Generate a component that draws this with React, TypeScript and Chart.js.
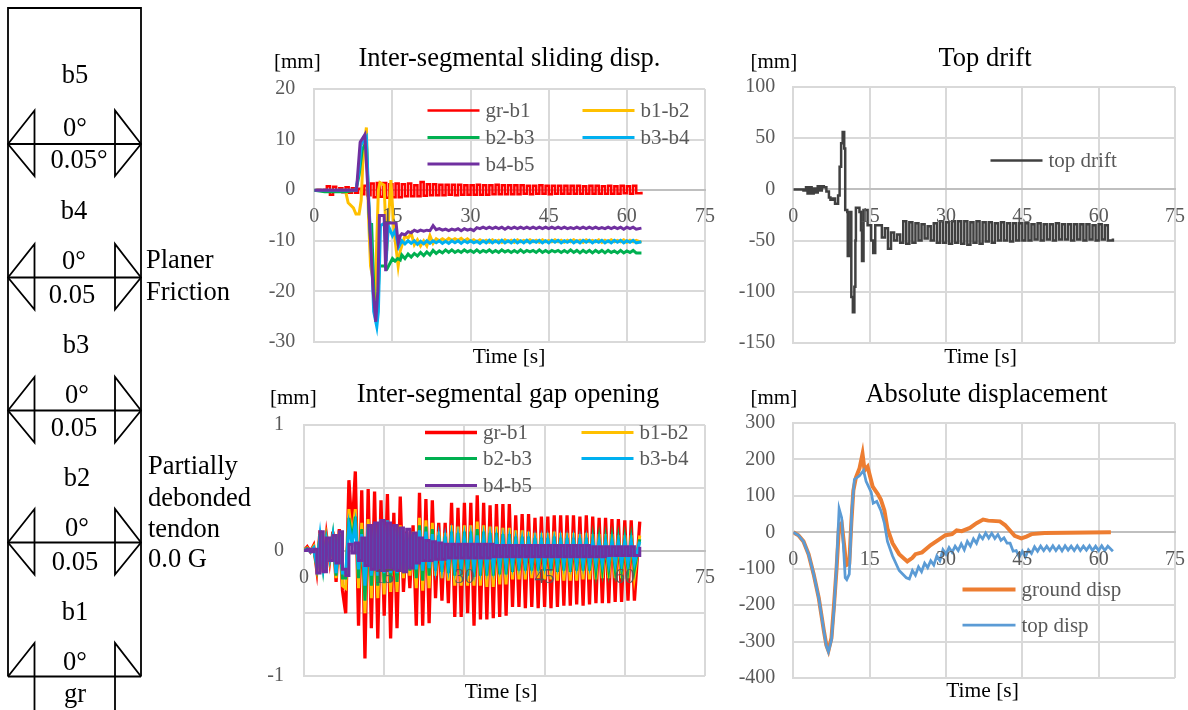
import React, { useEffect, useRef } from "react";
import { Chart, registerables } from "chart.js";

Chart.register(...registerables);

const FONT = '"Liberation Serif", "Times New Roman", serif';
const INK = "#595959";

// ---------- shared sampling times [s] ----------
const sampleTimes = [
  0, 0.6, 1.2, 1.8, 2.4, 3, 3.6, 4.2, 4.8, 5.4,
  6, 6.6, 7.2, 7.8, 8.4, 9, 9.6, 10.2, 10.8, 11.4,
  12, 12.6, 13.2, 13.8, 14.4, 15, 15.6, 16.2, 16.8, 17.4,
  18, 18.6, 19.2, 19.8, 20.4, 21, 21.6, 22.2, 22.8, 23.4,
  24, 24.6, 25.2, 25.8, 26.4, 27, 27.6, 28.2, 28.8, 29.4,
  30, 30.6, 31.2, 31.8, 32.4, 33, 33.6, 34.2, 34.8, 35.4,
  36, 36.6, 37.2, 37.8, 38.4, 39, 39.6, 40.2, 40.8, 41.4,
  42, 42.6, 43.2, 43.8, 44.4, 45, 45.6, 46.2, 46.8, 47.4,
  48, 48.6, 49.2, 49.8, 50.4, 51, 51.6, 52.2, 52.8, 53.4,
  54, 54.6, 55.2, 55.8, 56.4, 57, 57.6, 58.2, 58.8, 59.4,
  60, 60.6, 61.2, 61.8, 62.8,
];
const tailTimes = sampleTimes.slice(28); // from 16.8 s
const absTailTimes = sampleTimes.slice(38); // from 22.8 s

// ---------- Inter-segmental sliding disp. [mm] ----------
const slideGrB1 = [
  0, 0.1, -0.1, 0.1, 0.8, -0.9, 0.7, -0.3, 0.4, -0.4,
  0.6, -0.5, 0.4, -0.5, 0.3, -0.8, 0.9, -1, 1.3, -1.4,
  1.4, -1.3, 1.4, -1.5, 1.2, -1.4, 1.3, -1.4, 1.2, -1.2,
  1.3, -1.2, 1, -1.2, 1.6, -1.1, 1.2, -1, 1.2, -1,
  1.1, -1, 1.1, -0.9, 1.1, -1, 1.1, -0.9, 1, -0.9,
  1, -0.9, 1.1, -0.9, 1, -0.9, 1, -0.8, 1.1, -0.8,
  1, -0.8, 1, -0.8, 1, -0.8, 1, -0.7, 0.9, -0.8,
  0.9, -0.7, 1, -0.7, 0.9, -0.8, 0.9, -0.7, 0.9, -0.7,
  0.9, -0.7, 0.9, -0.7, 0.9, -0.7, 0.8, -0.7, 0.9, -0.7,
  0.9, -0.7, 0.8, -0.7, 0.9, -0.7, 0.8, -0.7, 0.9, -0.6,
  0.8, -0.7, 0.9, -0.6, -0.3,
];
const slideB1B2EarlyT = [0, 6, 6.5, 7.5, 8, 8.6, 9, 9.3, 9.6, 10, 10.4, 10.8, 11.7, 12.3, 12.6, 13.4, 13.9, 14.7, 15.3, 16.1, 16.5];
const slideB1B2Early = [0, -0.2, -2.5, -3.5, -4.7, -4.7, -2, 5, 9, 12.4, -5, -15, -20, 0, 1.5, 1, -12, 2, -8, -15, -12];
const slideB1B2Tail = [
  -11, -9, -9.5, -8.5, -10.8, -9.8, -11, -10, -11, -9,
  -10.5, -9.6, -10, -9.6, -10, -9.5, -9.9, -9.6, -9.9, -9.5,
  -10, -9.6, -10.1, -9.8, -10.2, -9.8, -10.2, -9.9, -10.3, -9.8,
  -10.2, -9.9, -10.3, -9.8, -10.2, -9.9, -10.3, -9.8, -10.2, -9.9,
  -10.2, -9.8, -10.2, -9.9, -10.3, -9.8, -10.2, -9.9, -10.2, -9.8,
  -10.2, -9.9, -10.3, -9.9, -10.2, -9.8, -10.2, -9.9, -10.3, -9.8,
  -10.2, -9.9, -10.2, -9.8, -10.3, -9.9, -10.2, -9.8, -10.2, -9.9,
  -10.2, -9.8, -10.3, -9.9, -10.2, -9.9, -10.3,
];
const slideB2B3EarlyT = [0, 2, 6, 8, 8.6, 9.2, 10, 10.4, 10.8, 11, 11.5, 12, 12.5, 13.5, 14, 15, 15.5, 16, 16.5];
const slideB2B3Early = [0, -0.3, -0.3, 0, 3, 8, 9.5, -2, -10, -6.5, -22, -26, -15, -15, -15.5, -13.5, -14, -13.5, -13.8];
const slideB2B3Tail = [
  -12.8, -13.5, -12.6, -13.2, -12.5, -13, -12.3, -12.9, -12.2, -12.8,
  -11.9, -12.5, -12, -12.4, -11.8, -12.3, -11.8, -12.3, -11.9, -12.3,
  -11.8, -12.2, -11.9, -12.3, -11.8, -12.3, -11.9, -12.2, -11.8, -12.3,
  -11.9, -12.3, -11.8, -12.2, -11.9, -12.3, -11.9, -12.3, -11.8, -12.3,
  -11.9, -12.2, -11.9, -12.3, -11.8, -12.3, -11.9, -12.3, -11.9, -12.2,
  -11.9, -12.3, -11.9, -12.3, -11.8, -12.3, -11.9, -12.4, -11.9, -12.3,
  -11.9, -12.4, -11.9, -12.3, -11.9, -12.4, -11.9, -12.3, -12, -12.4,
  -11.9, -12.4, -12, -12.3, -11.9, -12.4, -12.4,
];
const slideB3B4EarlyT = [0, 8, 8.6, 9, 10, 10.5, 11, 11.4, 12, 12.3, 12.7, 13.5, 13.8, 14.2, 15, 15.5, 16.2];
const slideB3B4Early = [0, 0, 4, 9, 10.5, -3, -13, -24, -27, -24, -7, -6.5, -14, -7, -9, -8, -11.2];
const slideB3B4Tail = [
  -10, -10.6, -10, -10.5, -10, -10.7, -10.1, -10.6, -10, -10.5,
  -10, -10.4, -10, -10.5, -10.1, -10.5, -10, -10.4, -10, -10.5,
  -10, -10.4, -10, -10.4, -10.1, -10.5, -10, -10.4, -9.9, -10.4,
  -10, -10.4, -9.9, -10.4, -10, -10.4, -9.9, -10.4, -10, -10.4,
  -9.9, -10.4, -10, -10.3, -9.9, -10.4, -10, -10.4, -9.9, -10.3,
  -9.9, -10.4, -10, -10.3, -9.9, -10.4, -10, -10.4, -9.9, -10.3,
  -9.9, -10.4, -10, -10.3, -9.9, -10.4, -10, -10.4, -9.9, -10.3,
  -9.9, -10.4, -10, -10.3, -9.9, -10.4, -10.2,
];
const slideB4B5EarlyT = [0, 8.1, 8.8, 9.7, 10.4, 10.8, 11.3, 11.8, 12.2, 12.5, 13.4, 13.7, 14, 15.7, 16.1, 16.5];
const slideB4B5Early = [0, 0, 9.5, 11, -2, -10, -20, -26, -20, -5, -5, -16, -6.5, -6.5, -10.5, -9];
const slideB4B5Tail = [
  -8.6, -8.8, -8.2, -8.4, -7.9, -8.2, -7.9, -8.1, -7.9, -8,
  -7, -7.8, -7.6, -7.9, -7.7, -8, -7.7, -7.9, -7.6, -8,
  -7.6, -7.9, -7.7, -8, -7.4, -7.6, -7.3, -7.6, -7.3, -7.6,
  -7.3, -7.6, -7.3, -7.7, -7.3, -7.6, -7.3, -7.6, -7.3, -7.6,
  -7.3, -7.6, -7.3, -7.6, -7.3, -7.6, -7.3, -7.6, -7.3, -7.6,
  -7.3, -7.6, -7.3, -7.6, -7.4, -7.6, -7.3, -7.6, -7.3, -7.6,
  -7.3, -7.6, -7.3, -7.6, -7.4, -7.6, -7.3, -7.6, -7.3, -7.6,
  -7.3, -7.7, -7.3, -7.6, -7.3, -7.7, -7.5,
];

// ---------- Inter-segmental gap opening [mm] ----------
const gapGrB1 = [
  0, 0.03, -0.01, 0.04, -0.16, 0.16, -0.17, 0.12, -0.08, 0.15,
  -0.25, 0.17, -0.32, -0.5, 0.56, 0.15, 0.63, -0.6, 0.48, -0.86,
  0.49, -0.62, 0.47, -0.7, 0.4, -0.52, 0.45, -0.7, 0.3, -0.62,
  0.43, -0.33, 0.15, -0.3, 0.2, -0.6, 0.46, -0.6, 0.41, -0.58,
  0.4, -0.38, 0.22, -0.4, 0.22, -0.42, 0.38, -0.53, 0.34, -0.53,
  0.38, -0.5, 0.38, -0.6, 0.44, -0.55, 0.38, -0.55, 0.36, -0.54,
  0.37, -0.53, 0.37, -0.52, 0.37, -0.45, 0.28, -0.45, 0.29, -0.46,
  0.29, -0.45, 0.26, -0.46, 0.27, -0.45, 0.27, -0.46, 0.28, -0.45,
  0.28, -0.44, 0.28, -0.44, 0.28, -0.43, 0.27, -0.44, 0.28, -0.43,
  0.27, -0.42, 0.26, -0.42, 0.26, -0.42, 0.25, -0.41, 0.25, -0.41,
  0.24, -0.4, 0.24, -0.4, 0.23,
];
const gapB1B2 = [
  0, 0.02, -0.01, 0.03, -0.14, 0.14, -0.15, 0.1, -0.07, 0.13,
  -0.22, 0.15, -0.28, -0.3, 0.33, 0.1, 0.33, -0.3, 0.22, -0.5,
  0.25, -0.38, 0.2, -0.38, 0.2, -0.35, 0.2, -0.33, 0.16, -0.33,
  0.2, -0.22, 0.12, -0.2, 0.15, -0.3, 0.26, -0.32, 0.24, -0.3,
  0.22, -0.2, 0.15, -0.22, 0.14, -0.24, 0.2, -0.28, 0.19, -0.28,
  0.2, -0.28, 0.2, -0.28, 0.23, -0.28, 0.2, -0.29, 0.19, -0.29,
  0.19, -0.27, 0.18, -0.27, 0.18, -0.23, 0.16, -0.23, 0.16, -0.23,
  0.15, -0.22, 0.14, -0.22, 0.14, -0.23, 0.14, -0.23, 0.15, -0.24,
  0.14, -0.24, 0.14, -0.24, 0.14, -0.24, 0.13, -0.23, 0.14, -0.23,
  0.13, -0.23, 0.13, -0.22, 0.13, -0.22, 0.13, -0.22, 0.12, -0.22,
  0.12, -0.22, 0.12, -0.21, 0.12,
];
const gapB2B3 = [
  0, 0.015, -0.01, 0.02, -0.13, 0.13, -0.14, 0.09, -0.06, 0.12,
  -0.2, 0.13, -0.22, -0.22, 0.26, 0.08, 0.27, -0.22, 0.17, -0.4,
  0.2, -0.28, 0.16, -0.28, 0.17, -0.26, 0.17, -0.25, 0.13, -0.25,
  0.16, -0.18, 0.1, -0.16, 0.13, -0.22, 0.2, -0.24, 0.19, -0.2,
  0.17, -0.16, 0.12, -0.17, 0.11, -0.18, 0.15, -0.2, 0.14, -0.2,
  0.15, -0.2, 0.15, -0.21, 0.17, -0.2, 0.15, -0.2, 0.14, -0.2,
  0.14, -0.19, 0.13, -0.19, 0.13, -0.17, 0.11, -0.16, 0.11, -0.16,
  0.11, -0.16, 0.1, -0.16, 0.1, -0.16, 0.1, -0.16, 0.11, -0.17,
  0.1, -0.16, 0.1, -0.17, 0.1, -0.16, 0.1, -0.16, 0.1, -0.16,
  0.09, -0.16, 0.09, -0.15, 0.09, -0.15, 0.09, -0.15, 0.09, -0.15,
  0.09, -0.15, 0.09, -0.15, 0.09,
];
const gapB3B4 = [
  0, 0.01, -0.01, 0.02, -0.12, 0.12, -0.13, 0.08, -0.06, 0.11,
  -0.18, 0.11, -0.18, -0.18, 0.2, 0.05, 0.21, -0.15, 0.13, -0.28,
  0.18, -0.2, 0.2, -0.2, 0.25, -0.18, 0.24, -0.18, 0.19, -0.18,
  0.17, -0.17, 0.14, -0.14, 0.13, -0.15, 0.16, -0.16, 0.15, -0.14,
  0.13, -0.13, 0.1, -0.13, 0.09, -0.13, 0.11, -0.13, 0.1, -0.13,
  0.1, -0.13, 0.1, -0.14, 0.12, -0.13, 0.1, -0.13, 0.1, -0.13,
  0.09, -0.12, 0.09, -0.12, 0.09, -0.11, 0.08, -0.11, 0.08, -0.11,
  0.08, -0.11, 0.08, -0.11, 0.08, -0.11, 0.08, -0.11, 0.08, -0.11,
  0.08, -0.11, 0.08, -0.11, 0.08, -0.11, 0.08, -0.11, 0.08, -0.11,
  0.07, -0.1, 0.07, -0.1, 0.07, -0.1, 0.07, -0.1, 0.07, -0.1,
  0.07, -0.1, 0.07, -0.1, 0.07,
];
const gapB4B5 = [
  0, 0.01, -0.01, 0.01, -0.18, 0.15, -0.17, 0.1, -0.08, 0.12,
  -0.1, 0.15, -0.15, -0.2, 0.05, -0.02, 0.06, -0.08, 0.1, -0.12,
  0.2, -0.15, 0.22, -0.16, 0.24, -0.16, 0.22, -0.15, 0.2, -0.16,
  0.18, -0.17, 0.17, -0.14, 0.14, -0.1, 0.1, -0.08, 0.08, -0.08,
  0.07, -0.07, 0.06, -0.07, 0.05, -0.06, 0.05, -0.06, 0.05, -0.06,
  0.05, -0.06, 0.05, -0.06, 0.05, -0.06, 0.05, -0.06, 0.05, -0.05,
  0.04, -0.05, 0.04, -0.05, 0.04, -0.05, 0.04, -0.05, 0.04, -0.05,
  0.04, -0.05, 0.04, -0.05, 0.04, -0.05, 0.04, -0.05, 0.04, -0.05,
  0.04, -0.05, 0.04, -0.05, 0.04, -0.05, 0.04, -0.05, 0.04, -0.05,
  0.03, -0.05, 0.03, -0.05, 0.03, -0.04, 0.03, -0.04, 0.03, -0.04,
  0.03, -0.04, 0.03, -0.04, 0.03,
];

// ---------- Top drift [mm] ----------
const driftEarlyT = [0, 1, 2, 2.5, 2.8, 3.2, 3.6, 4, 4.4, 4.8, 5.2, 5.6, 6, 6.5, 7, 7.3, 7.8, 8.2, 8.5, 8.8, 9.1, 9.4, 9.7, 10, 10.2, 10.6, 10.7, 11, 11.2, 11.4, 11.7, 12, 12.2, 12.3, 13, 13.3, 13.5, 13.8, 14.6, 15.3, 15.7, 16.1];
const driftEarly = [0, 0, -1, 2, -4, 2, -4, 1, -3, 3, -1, 3, 2, -2, -8, -10, -9, -14, -14, -6, 22, 45, 56, 40, -20, -22, -65, -65, -22, -105, -120, -95, -50, -18, -22, -40, -70, -20, -35, -50, -62, -35];
const driftTail = [
  -35, -47, -38, -58, -42, -50, -44, -52, -31, -53,
  -32, -52, -33, -50, -34, -48, -36, -50, -33, -52,
  -31, -52, -32, -53, -31, -52, -31, -53, -31, -54,
  -32, -52, -31, -53, -32, -51, -32, -52, -33, -50,
  -32, -50, -33, -51, -33, -50, -33, -50, -33, -50,
  -34, -49, -33, -50, -34, -49, -34, -50, -33, -49,
  -34, -49, -34, -50, -34, -49, -34, -50, -34, -49,
  -35, -50, -34, -49, -35, -50, -48,
];

// ---------- Absolute displacement [mm] ----------
const groundT = [0, 1, 2, 3, 4, 5, 5.5, 6, 6.5, 6.9, 7.5, 8, 8.5, 9, 9.5, 10, 10.4, 11, 11.4, 11.8, 12.3, 13, 13.6, 14, 14.6, 15.6, 16.6, 17.2, 17.9, 18.5, 19.5, 20.8, 22.4, 23.4, 24, 25.3, 27, 28.6, 29.9, 31.2, 32.1, 33.1, 34.7, 36, 37.3, 38.3, 40.6, 41.6, 43.5, 44.8, 45.8, 46.8, 49.4, 62.4];
const groundDisp = [0, -8, -25, -60, -115, -180, -225, -270, -310, -325, -290, -200, -100, 20, 25, -37, -90, -85, 25, 115, 150, 175, 215, 170, 180, 125, 105, 90, 60, 10, -30, -60, -80, -70, -60, -55, -35, -20, -8, -5, 5, 3, 12, 25, 35, 32, 30, 20, -10, -17, -12, -5, -2, 0];
const topEarlyT = [0, 1, 2, 3, 4, 5, 5.5, 6, 6.5, 6.9, 7.5, 8, 8.5, 9, 9.5, 9.9, 10.2, 10.5, 11, 11.5, 12, 13, 13.8, 14.3, 15.3, 15.7, 16.4, 17.2, 17.9, 18.5, 19.5, 20.8, 22.2];
const topEarly = [0, -8, -25, -60, -115, -180, -225, -270, -312, -328, -295, -210, -90, 65, 40, -50, -125, -130, -115, 60, 145, 155, 170, 140, 110, 80, 85, 60, 25, -25, -65, -105, -125];
const topTail = [
  -128, -105, -118, -95, -108, -85, -97, -78, -90, -65,
  -78, -48, -60, -42, -55, -38, -50, -32, -48, -25,
  -38, -18, -30, -8, -18, -2, -16, -3, -17, -6,
  -22, -15, -30, -30, -52, -50, -68, -52, -68, -48,
  -58, -40, -52, -38, -50,
  -38, -50, -37, -50, -38, -51, -37, -49, -38, -50, -37,
  -50, -38, -49, -37, -50, -38, -50, -37, -50, -38, -52,
];

const segmentNames = ["gr-b1", "b1-b2", "b2-b3", "b3-b4", "b4-b5"];
const segmentColors = ["#ff0000", "#ffc000", "#00b050", "#00b0f0", "#7030a0"];

const xy = (t: number[], v: number[]) => v.map((y, i) => ({ x: t[i], y }));

const slideSeries = [
  xy(sampleTimes, slideGrB1),
  [...xy(slideB1B2EarlyT, slideB1B2Early), ...xy(tailTimes, slideB1B2Tail)],
  [...xy(slideB2B3EarlyT, slideB2B3Early), ...xy(tailTimes, slideB2B3Tail)],
  [...xy(slideB3B4EarlyT, slideB3B4Early), ...xy(tailTimes, slideB3B4Tail)],
  [...xy(slideB4B5EarlyT, slideB4B5Early), ...xy(tailTimes, slideB4B5Tail)],
];
const gapSeries = [gapGrB1, gapB1B2, gapB2B3, gapB3B4, gapB4B5].map((v) => xy(sampleTimes, v));

type Panel = {
  left: number; top: number; width: number; height: number;
  axisWidth: number;
  yMin: number; yMax: number; yStep: number; yLabels?: number[];
  yTickPad: number;
  lines: { label: string; color: string; width: number; stepped?: boolean; data: { x: number; y: number }[] }[];
};

// Chart.js keeps about 31px above and below, and 25px right of, a plot whose
// x axis crosses at y = 0, so each canvas is that much larger than its plot.
const panels: Panel[] = [
  {
    left: 260, top: 58, width: 470, height: 315, axisWidth: 54.3,
    yMin: -30, yMax: 20, yStep: 10, yTickPad: 19,
    lines: segmentNames.map((label, i) => ({ label, color: segmentColors[i], width: i === 0 ? 2.5 : 3, stepped: i === 0, data: slideSeries[i] })),
  },
  {
    left: 260, top: 393, width: 470, height: 315, axisWidth: 44,
    yMin: -1, yMax: 1, yStep: 0.5, yLabels: [-1, 0, 1], yTickPad: 20,
    lines: segmentNames.map((label, i) => ({ label, color: segmentColors[i], width: i === 0 ? 3.3 : 3, stepped: i === 4, data: gapSeries[i] })),
  },
  {
    left: 730, top: 57, width: 470, height: 316, axisWidth: 63.3,
    yMin: -150, yMax: 100, yStep: 50, yTickPad: 18,
    lines: [{
      label: "top drift", color: "#404040", width: 2.5, stepped: true,
      data: [...xy(driftEarlyT, driftEarly), ...xy(tailTimes, driftTail)],
    }],
  },
  {
    left: 730, top: 393, width: 470, height: 315, axisWidth: 63.3,
    yMin: -400, yMax: 300, yStep: 100, yTickPad: 18,
    lines: [
      { label: "ground disp", color: "#ed7d31", width: 4, data: xy(groundT, groundDisp) },
      { label: "top disp", color: "#5b9bd5", width: 2.75, data: [...xy(topEarlyT, topEarly), ...xy(absTailTimes, topTail)] },
    ],
  },
];

function ChartPanel({ p }: { p: Panel }) {
  const ref = useRef<HTMLCanvasElement>(null);
  useEffect(() => {
    const n = p.lines.length;
    const chart = new Chart(ref.current!, {
      type: "line",
      data: {
        datasets: p.lines.map((l, i) => ({
          label: l.label,
          data: l.data,
          borderColor: l.color,
          backgroundColor: l.color,
          borderWidth: l.width,
          pointRadius: 0,
          tension: 0,
          stepped: l.stepped ? "before" : false,
          order: n - i,
        })),
      },
      options: {
        responsive: false,
        animation: false,
        layout: { padding: 0 },
        plugins: { legend: { display: false }, tooltip: { enabled: false }, title: { display: false } },
        scales: {
          x: {
            type: "linear",
            min: 0, max: 75,
            position: { y: 0 } as any,
            border: { color: "#bfbfbf", width: 2 },
            grid: { color: "#d9d9d9", lineWidth: 2, drawTicks: false },
            ticks: {
              stepSize: 15, autoSkip: false, minRotation: 0, maxRotation: 0,
              padding: 15, color: INK, z: 1,
              font: { family: FONT, size: 20 },
            },
          },
          y: {
            type: "linear",
            min: p.yMin, max: p.yMax,
            border: { color: "#d9d9d9", width: 2 },
            grid: { color: "#d9d9d9", lineWidth: 2, drawTicks: false },
            afterFit: (s: any) => { s.width = p.axisWidth; },
            ticks: {
              stepSize: p.yStep, padding: p.yTickPad, color: INK,
              font: { family: FONT, size: 20 },
              callback: (v: any) => (p.yLabels && !p.yLabels.includes(Number(v)) ? "" : String(v)),
            },
          },
        },
      },
    } as any);
    return () => chart.destroy();
  }, [p]);
  return (
    <canvas
      ref={ref}
      width={p.width}
      height={p.height}
      style={{ position: "absolute", left: p.left, top: p.top, width: p.width, height: p.height, filter: "blur(0.4px)" }}
    />
  );
}

// ---------- overlay text layout ----------
const headings = [
  { text: "Inter-segmental sliding disp.", x: 509.5, y: 66 },
  { text: "Inter-segmental gap opening", x: 508, y: 402 },
  { text: "Top drift", x: 985, y: 66 },
  { text: "Absolute displacement", x: 986.5, y: 402 },
];
const units = [
  { x: 274, y: 68 }, { x: 270, y: 404 }, { x: 750.5, y: 68 }, { x: 750.5, y: 404 },
];
const timeLabels = [
  { x: 509, y: 362.5 }, { x: 501, y: 698 }, { x: 980.5, y: 362.5 }, { x: 982.5, y: 697 },
];
const legends = [
  { panel: 0, x: [427.5, 582.5], ys: [110.5, 137.5, 164], w: 52 },
  { panel: 1, x: [425, 581.5], ys: [432.5, 458.5, 485.5], w: 52 },
  { panel: 2, x: [990.5], ys: [160.5], w: 52 },
  { panel: 3, x: [962.5], ys: [589.5, 625], w: 53 },
];

const jointYs = [144, 277.5, 410.5, 542.5];
const lastJointY = 676.5;
const blockLabels = [
  { t: "b5", x: 75, y: 83 }, { t: "0°", x: 75, y: 136 }, { t: "0.05°", x: 79, y: 168 },
  { t: "b4", x: 74, y: 219 }, { t: "0°", x: 74, y: 269 }, { t: "0.05", x: 72, y: 302.5 },
  { t: "b3", x: 76, y: 352.5 }, { t: "0°", x: 77, y: 402.5 }, { t: "0.05", x: 74, y: 436 },
  { t: "b2", x: 77, y: 485.5 }, { t: "0°", x: 77, y: 535.5 }, { t: "0.05", x: 75, y: 570 },
  { t: "b1", x: 75, y: 620 }, { t: "0°", x: 75, y: 670 }, { t: "gr", x: 75, y: 701.5 },
];
const sideLabels = [
  { t: "Planer", x: 146, y: 268 }, { t: "Friction", x: 146, y: 300 },
  { t: "Partially", x: 148, y: 474 }, { t: "debonded", x: 148, y: 505.5 },
  { t: "tendon", x: 148, y: 536.5 }, { t: "0.0 G", x: 148, y: 566.5 },
];

function Overlay() {
  const sk = { stroke: "#000", strokeWidth: 1.8, fill: "none" };
  return (
    <svg width={1188} height={710} style={{ position: "absolute", left: 0, top: 0, filter: "blur(0.4px)" }} fontFamily={FONT}>
      {/* column */}
      <polyline points={`8,${lastJointY} 8,8 141,8 141,${lastJointY}`} {...sk} />
      {jointYs.map((y) => (
        <g key={y}>
          <line x1={8} x2={141} y1={y} y2={y} {...sk} />
          <polygon points={`8,${y} 34.5,${y - 33.5} 34.5,${y + 32}`} {...sk} />
          <polygon points={`141,${y} 115,${y - 33.5} 115,${y + 32}`} {...sk} />
        </g>
      ))}
      <line x1={8} x2={141} y1={lastJointY} y2={lastJointY} {...sk} />
      <polyline points={`8,${lastJointY} 34.5,${lastJointY - 33.5} 34.5,710`} {...sk} />
      <polyline points={`141,${lastJointY} 115,${lastJointY - 33.5} 115,710`} {...sk} />
      {blockLabels.map((l, i) => (
        <text key={i} x={l.x} y={l.y} textAnchor="middle" fontSize={26.5} fill="#000">{l.t}</text>
      ))}
      {sideLabels.map((l, i) => (
        <text key={i} x={l.x} y={l.y} fontSize={26.5} fill="#000">{l.t}</text>
      ))}
      {/* chart headings */}
      {headings.map((h, i) => (
        <text key={i} x={h.x} y={h.y} textAnchor="middle" fontSize={26.5} fill="#000">{h.text}</text>
      ))}
      {units.map((u, i) => (
        <text key={i} x={u.x} y={u.y} fontSize={21} fill="#000">[mm]</text>
      ))}
      {timeLabels.map((u, i) => (
        <text key={i} x={u.x} y={u.y} textAnchor="middle" fontSize={21.5} fill="#000">Time [s]</text>
      ))}
      {/* legends */}
      {legends.map((lg) =>
        panels[lg.panel].lines.map((l, i) => {
          const cols = lg.x.length;
          const x = lg.x[i % cols];
          const y = lg.ys[Math.floor(i / cols)];
          return (
            <g key={lg.panel + l.label}>
              <line x1={x} x2={x + lg.w} y1={y} y2={y} stroke={l.color} strokeWidth={l.width} />
              <text x={x + lg.w + 6} y={y + 6.5} fontSize={21} fill={INK}>{l.label}</text>
            </g>
          );
        })
      )}
    </svg>
  );
}

export default function App() {
  return (
    <div style={{ position: "absolute", left: 0, top: 0, width: 1188, height: 710, overflow: "hidden", background: "#fff" }}>
      {panels.map((p, i) => <ChartPanel key={i} p={p} />)}
      <Overlay />
    </div>
  );
}
